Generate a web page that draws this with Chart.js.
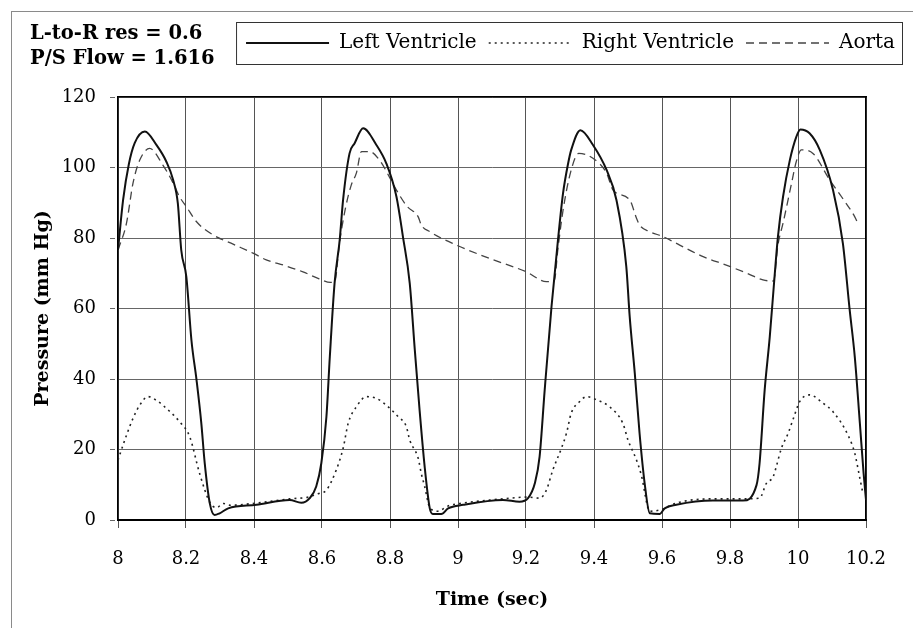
<!DOCTYPE html>
<html>
<head>
<meta charset="utf-8">
<script src="https://cdn.jsdelivr.net/npm/chart.js@4/dist/chart.umd.min.js"></script>
<style>
    html, body { margin: 0; padding: 0; background: #fff; overflow: hidden; }
    #wrap { position: relative; width: 913px; height: 628px; }
    #frame { position: absolute; left: 11px; top: 11px; width: 1000px; height: 1000px; border: 1px solid #8a8a8a; }
    #info { position: absolute; left: 30px; top: 20px; font: bold 19.5px "DejaVu Serif"; line-height: 25px; color: #000; white-space: nowrap; }
    canvas { position: absolute; left: 0; top: 0; }
</style>
</head>
<body>
<div id="wrap">
    <div id="frame"></div>
    <canvas id="grafico" width="913" height="628"></canvas>
    <div id="info">L-to-R res = 0.6<br>P/S Flow = 1.616</div>
</div>
<script>
/*
    valores, tempo em segundos e pressao em mm Hg
*/
var _timeTicks = [8, 8.2, 8.4, 8.6, 8.8, 9, 9.2, 9.4, 9.6, 9.8, 10, 10.2];
var _pressureTicks = [0, 20, 40, 60, 80, 100, 120];

var _lvTime = [8.000, 8.015, 8.032, 8.049, 8.079, 8.113, 8.142, 8.162, 8.176, 8.186, 8.201, 8.216, 8.231, 8.245, 8.255, 8.270, 8.284, 8.299, 8.324, 8.407, 8.505, 8.539, 8.564, 8.583, 8.598, 8.613, 8.623, 8.637, 8.652, 8.662, 8.681, 8.696, 8.721, 8.760, 8.789, 8.819, 8.838, 8.858, 8.873, 8.887, 8.902, 8.917, 8.926, 8.951, 8.971, 9.015, 9.132, 9.181, 9.206, 9.226, 9.240, 9.255, 9.275, 9.294, 9.309, 9.324, 9.333, 9.360, 9.397, 9.437, 9.466, 9.495, 9.505, 9.520, 9.534, 9.549, 9.564, 9.593, 9.608, 9.642, 9.750, 9.838, 9.878, 9.887, 9.902, 9.917, 9.931, 9.941, 9.956, 9.976, 9.995, 10.007, 10.034, 10.064, 10.103, 10.132, 10.152, 10.167, 10.182, 10.193, 10.200];
var _lvPressure = [76.6, 90.8, 101, 106.9, 110.2, 106.4, 101.7, 96.5, 89.8, 76.6, 69, 51, 39.7, 27.5, 16.2, 4.7, 1.4, 1.9, 3.3, 4.3, 5.7, 4.9, 6.2, 9.5, 16.1, 29.3, 46.3, 67.2, 79.4, 90.8, 104, 106.9, 111.1, 106.4, 101.2, 91.7, 80.4, 67.2, 48.2, 31.2, 15.1, 3.3, 1.7, 1.7, 3.3, 4.3, 5.7, 5.2, 6.2, 10.4, 18, 36.9, 60.5, 79.4, 92.7, 101.2, 105, 110.6, 106.4, 99.3, 90.8, 71.9, 57.7, 41.6, 24.6, 10.4, 1.9, 1.7, 3.3, 4.3, 5.5, 5.5, 9.9, 16.1, 36.9, 52, 69, 80.4, 91.7, 102.1, 108.7, 110.8, 109.7, 105, 93.6, 78.5, 59.6, 46.3, 27.4, 13.2, 5.7];

var _rvTime = [8.000, 8.020, 8.044, 8.064, 8.088, 8.118, 8.150, 8.181, 8.211, 8.240, 8.270, 8.290, 8.310, 8.330, 8.407, 8.505, 8.560, 8.590, 8.613, 8.642, 8.662, 8.677, 8.701, 8.731, 8.760, 8.790, 8.824, 8.848, 8.858, 8.883, 8.892, 8.902, 8.917, 8.940, 8.971, 9.015, 9.132, 9.206, 9.240, 9.260, 9.279, 9.304, 9.319, 9.333, 9.358, 9.378, 9.410, 9.446, 9.485, 9.500, 9.525, 9.539, 9.564, 9.600, 9.642, 9.750, 9.838, 9.887, 9.907, 9.927, 9.936, 9.951, 9.971, 9.985, 10.005, 10.034, 10.074, 10.103, 10.147, 10.167, 10.182, 10.190];
var _rvPressure = [17, 22.7, 28.8, 32.6, 35, 33.6, 31, 27.9, 23.6, 13.2, 5, 3.5, 4.7, 4.2, 4.8, 6, 6.5, 7.5, 8.5, 14.2, 20.3, 27.4, 32.1, 35, 34.5, 32.5, 29.3, 26.5, 22.7, 17.5, 13.2, 9.5, 3.5, 2.5, 4, 4.8, 6, 6.5, 6.2, 8.5, 14.2, 20.3, 24.6, 30.3, 33.6, 35, 34, 32.1, 27.4, 22.7, 17, 12.8, 2.5, 3, 4.8, 6, 6, 6.2, 10.4, 12.3, 15.1, 20.3, 24.6, 28.4, 33.6, 35.5, 33.1, 30.7, 24.1, 18.9, 11.8, 8];

var _aoTime = [8.000, 8.025, 8.044, 8.064, 8.093, 8.132, 8.160, 8.181, 8.201, 8.231, 8.279, 8.340, 8.397, 8.436, 8.490, 8.544, 8.590, 8.625, 8.637, 8.652, 8.668, 8.686, 8.701, 8.716, 8.740, 8.770, 8.800, 8.819, 8.850, 8.883, 8.892, 8.917, 8.995, 9.093, 9.201, 9.260, 9.283, 9.294, 9.309, 9.333, 9.355, 9.397, 9.437, 9.456, 9.505, 9.525, 9.534, 9.564, 9.603, 9.652, 9.721, 9.789, 9.850, 9.897, 9.928, 9.941, 9.956, 9.981, 9.995, 10.010, 10.044, 10.093, 10.128, 10.167, 10.176];
var _aoPressure = [76.6, 84.2, 95.5, 102.1, 105.4, 100.7, 96, 91.7, 88.9, 84.6, 80.9, 78.2, 75.7, 73.8, 72.2, 70.4, 68.5, 67.4, 67.5, 79, 88, 95, 98.4, 104.5, 104.5, 102, 97, 93.6, 89, 86, 83.7, 81.8, 78, 74.2, 70.4, 67.6, 67.8, 77, 87.9, 99.3, 104, 102.6, 98.4, 93.6, 90.8, 85.6, 83.7, 81.8, 80.4, 78, 74.7, 72.3, 70, 68.1, 67.8, 78, 84.2, 95.5, 101.7, 105, 104, 96.5, 91.7, 86, 84.2];

var _grafico;

window.addEventListener("load", function () {
    desenhaGrafico();
});

function montaPontos(_t, _p) {
    return _t.map(function (t, i) { return { x: t, y: _p[i] }; });
}

// com usePointStyle o chart.js pega o estilo do ponto, entao o tracejado vem do dataset aqui
function montaLegenda(chart) {
    var itens = Chart.defaults.plugins.legend.labels.generateLabels(chart);
    itens.forEach(function (item) {
        var ds = chart.data.datasets[item.datasetIndex];
        item.lineDash = ds.borderDash || [];
        item.lineWidth = ds.borderWidth;
        item.strokeStyle = ds.borderColor;
    });
    return itens;
}

// caixa em volta da legenda
var _molduraPlugin = {
    id: "moldura",
    afterDraw: function (chart) {
        var ctx = chart.ctx;
        var boxes = chart.legend.legendHitBoxes;
        if (boxes && boxes.length) {
            var first = boxes[0];
            var last = boxes[boxes.length - 1];
            ctx.save();
            ctx.strokeStyle = "#333";
            ctx.lineWidth = 1;
            ctx.strokeRect(first.left - 9.5, first.top - 10.5, last.left + last.width - first.left + 17, first.height + 22);
            ctx.restore();
        }
    }
};

function desenhaGrafico() {
    _grafico = new Chart(document.getElementById("grafico"), {
        type: "line",
        data: {
            datasets: [
                {
                    label: "Left Ventricle",
                    data: montaPontos(_lvTime, _lvPressure),
                    borderColor: "#111",
                    borderWidth: 2,
                    xAxisID: "x",
                    yAxisID: "y"
                },
                {
                    label: "Right Ventricle",
                    data: montaPontos(_rvTime, _rvPressure),
                    borderColor: "#222",
                    borderWidth: 1.6,
                    borderDash: [2, 4],
                    xAxisID: "x",
                    yAxisID: "y"
                },
                {
                    label: "Aorta",
                    data: montaPontos(_aoTime, _aoPressure),
                    borderColor: "#444",
                    borderWidth: 1.3,
                    borderDash: [8, 5],
                    xAxisID: "x",
                    yAxisID: "y"
                }
            ]
        },
        options: {
            responsive: false,
            animation: false,
            parsing: false,
            layout: { padding: { top: 21, left: 12, right: 6, bottom: 14 } },
            elements: {
                point: { radius: 0 },
                line: { cubicInterpolationMode: "monotone", fill: false }
            },
            plugins: {
                tooltip: { enabled: false },
                legend: {
                    position: "top",
                    align: "end",
                    labels: {
                        usePointStyle: true,
                        pointStyle: "line",
                        pointStyleWidth: 83,
                        padding: 12,
                        color: "#000",
                        font: { family: "DejaVu Serif", size: 20 },
                        generateLabels: montaLegenda
                    }
                }
            },
            scales: {
                x: {
                    type: "linear",
                    position: "bottom",
                    min: 8,
                    max: 10.2,
                    afterBuildTicks: function (s) { s.ticks = _timeTicks.map(function (v) { return { value: v }; }); },
                    afterFit: function (s) { s.height = 94; },
                    ticks: {
                        color: "#000",
                        padding: 21,
                        maxRotation: 0,
                        font: { family: "DejaVu Serif", size: 18 },
                        callback: function (v) { return String(v); }
                    },
                    grid: { color: "#555", lineWidth: 1, tickLength: 8 },
                    border: { color: "#000", width: 2 },
                    title: {
                        display: true,
                        text: "Time (sec)",
                        color: "#000",
                        padding: { top: 0, bottom: 3 },
                        font: { family: "DejaVu Serif", size: 19, weight: "bold" }
                    }
                },
                xTop: {
                    type: "linear",
                    position: "top",
                    min: 8,
                    max: 10.2,
                    afterFit: function (s) { s.height = 34; },
                    ticks: { display: false },
                    grid: { display: false },
                    border: { color: "#000", width: 1.5 }
                },
                y: {
                    type: "linear",
                    position: "left",
                    min: 0,
                    max: 120,
                    afterBuildTicks: function (s) { s.ticks = _pressureTicks.map(function (v) { return { value: v }; }); },
                    afterFit: function (s) { s.width = 106; },
                    ticks: {
                        color: "#000",
                        padding: 14,
                        font: { family: "DejaVu Serif", size: 18 }
                    },
                    grid: { color: "#666", lineWidth: 1, tickLength: 8, borderDash: [5, 3], tickBorderDash: [5, 3] },
                    border: { color: "#000", width: 1.5 },
                    title: {
                        display: true,
                        text: "Pressure (mm Hg)",
                        color: "#000",
                        padding: { top: 20, bottom: 0 },
                        font: { family: "DejaVu Serif", size: 19, weight: "bold" }
                    }
                },
                yR: {
                    type: "linear",
                    position: "right",
                    min: 0,
                    max: 120,
                    afterFit: function (s) { s.width = 41; },
                    ticks: { display: false },
                    grid: { display: false },
                    border: { color: "#000", width: 1.5 }
                }
            }
        },
        plugins: [_molduraPlugin]
    });
}
</script>
</body>
</html>
